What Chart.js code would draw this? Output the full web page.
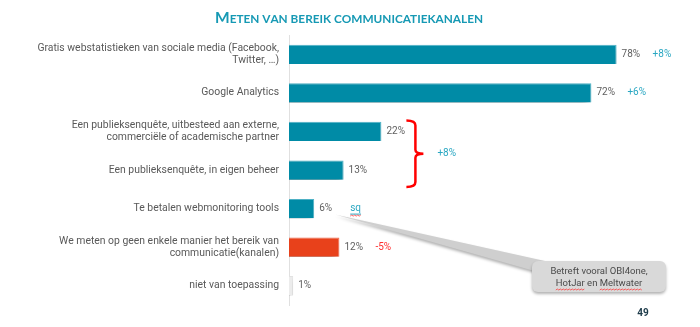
<!DOCTYPE html>
<html>
<head>
<meta charset="utf-8">
<script src="https://cdn.jsdelivr.net/npm/chart.js@4"></script>
<style>
  html, body { margin: 0; padding: 0; background: #fff; }
  #wrap { width: 700px; height: 327px; position: relative; }
</style>
</head>
<body>
<div id="wrap"><canvas id="chart"></canvas></div>
<script>
// Data
const categories = [
  ['Gratis webstatistieken van sociale media (Facebook,', 'Twitter, …)'],
  'Google Analytics',
  ['Een publieksenquête, uitbesteed aan externe,', 'commerciële of academische partner'],
  'Een publieksenquête, in eigen beheer',
  'Te betalen webmonitoring tools',
  ['We meten op geen enkele manier het bereik van', 'communicatie(kanalen)'],
  'niet van toepassing'
];
const values = [78, 72, 22, 13, 6, 12, 1];
const changes = ['+8%', '+6%', '', '', 'sq', '-5%', ''];
const groupRows = [2, 3];
const groupChange = '+8%';
const titleText = 'Meten van bereik communicatiekanalen';
const noteLines = ['Betreft vooral OBI4one,', 'HotJar en Meltwater'];
const pageNumber = '49';

const TEAL = '#008ba6';
const RED = '#e8411b';

// Bar shadow
const shadowPlugin = {
  id: 'shadow',
  beforeDatasetsDraw(chart) {
    const ctx = chart.ctx;
    ctx.save();
    ctx.shadowColor = 'rgba(0,0,0,0.45)';
    ctx.shadowBlur = 5;
    ctx.shadowOffsetX = -3;
    ctx.shadowOffsetY = 4;
  },
  afterDatasetsDraw(chart) {
    chart.ctx.restore();
  }
};

// Title, labels, bracket, callout
const extras = {
  id: 'extras',
  afterDraw(chart) {
    const ctx = chart.ctx;
    const x = chart.scales.x;
    const meta = chart.getDatasetMeta(0);

    // title in small caps
    ctx.save();
    ctx.fillStyle = '#1699b4';
    const big = 'bold 15.5px Lato', small = 'bold 11.8px Lato';
    const words = titleText.split(' ');
    const parts = [];
    words.forEach((w, i) => {
      parts.push([w[0].toUpperCase(), i === 0 ? big : small]);
      parts.push([w.slice(1).toUpperCase() + (i < words.length - 1 ? ' ' : ''), small]);
    });
    let total = 0;
    parts.forEach(p => { ctx.font = p[1]; total += ctx.measureText(p[0]).width; });
    let tx = 349 - total / 2;
    parts.forEach(p => {
      ctx.font = p[1];
      ctx.fillText(p[0], tx, 23);
      tx += ctx.measureText(p[0]).width;
    });
    ctx.restore();

    // value labels and changes
    ctx.save();
    ctx.textBaseline = 'middle';
    meta.data.forEach((bar, i) => {
      const end = x.getPixelForValue(values[i]);
      ctx.font = '10px Roboto';
      ctx.fillStyle = '#5f5f5f';
      ctx.textAlign = 'left';
      ctx.fillText(values[i] + '%', end + 5, bar.y);
      if (changes[i]) {
        const cx = end + 36;
        ctx.fillStyle = changes[i].startsWith('-') ? '#ff2f2f' : '#2aa7c2';
        ctx.fillText(changes[i], cx, bar.y);
        if (changes[i] === 'sq') {
          const w = ctx.measureText('sq').width;
          ctx.strokeStyle = '#2aa7c2';
          ctx.lineWidth = 1;
          ctx.beginPath();
          ctx.moveTo(cx, bar.y + 5.5);
          ctx.lineTo(cx + w, bar.y + 5.5);
          ctx.stroke();
          squiggle(ctx, cx, cx + w, bar.y + 7.5);
        }
      }
    });

    // red bracket for rows 2-3
    const top = meta.data[groupRows[0]].y - 11;
    const bot = meta.data[groupRows[1]].y + 17;
    const mid = (top + bot) / 2;
    const bx = x.getPixelForValue(values[groupRows[0]]) + 34;
    ctx.strokeStyle = '#ff0000';
    ctx.lineWidth = 2.5;
    ctx.beginPath();
    ctx.moveTo(bx - 9, top);
    ctx.quadraticCurveTo(bx, top, bx, top + 5);
    ctx.lineTo(bx, mid - 4);
    ctx.quadraticCurveTo(bx, mid, bx + 8, mid);
    ctx.quadraticCurveTo(bx, mid, bx, mid + 4);
    ctx.lineTo(bx, bot - 5);
    ctx.quadraticCurveTo(bx, bot, bx - 9, bot);
    ctx.stroke();
    ctx.fillStyle = '#2aa7c2';
    ctx.font = '10px Roboto';
    ctx.textAlign = 'left';
    ctx.fillText(groupChange, bx + 22, mid);

    // callout pointing at the webmonitoring row
    const r = meta.data[4];
    const ax = x.getPixelForValue(values[4]) + 21, ay = r.y + 6;
    ctx.fillStyle = '#cfcfcf';
    ctx.shadowColor = 'rgba(0,0,0,0.3)';
    ctx.shadowBlur = 3;
    ctx.shadowOffsetY = 2;
    ctx.beginPath();
    ctx.moveTo(ax, ay);
    ctx.lineTo(545, 261);
    ctx.lineTo(545, 274);
    ctx.closePath();
    ctx.fill();
    ctx.fillStyle = '#d9d9d9';
    ctx.beginPath();
    ctx.roundRect(532, 261, 134, 31, 6);
    ctx.fill();
    ctx.shadowColor = 'transparent';
    ctx.fillStyle = '#4a4a4a';
    ctx.font = '9.5px Roboto';
    ctx.textAlign = 'center';
    ctx.fillText(noteLines[0], 599, 272);
    ctx.fillText(noteLines[1], 599, 284);
    // spell-check squiggles
    const lineStart = 599 - ctx.measureText(noteLines[1]).width / 2;
    const w1 = ctx.measureText('HotJar').width;
    const w2 = ctx.measureText('HotJar en ').width;
    const w3 = ctx.measureText('HotJar en Meltwater').width;
    squiggle(ctx, lineStart, lineStart + w1, 290);
    squiggle(ctx, lineStart + w2, lineStart + w3, 290);

    // page number
    ctx.fillStyle = '#1d3b4a';
    ctx.font = 'bold 10px Roboto';
    ctx.textAlign = 'center';
    ctx.fillText(pageNumber, 643, 313);
    ctx.restore();
  }
};

function squiggle(ctx, x0, x1, y) {
  ctx.save();
  ctx.strokeStyle = '#ff3b3b';
  ctx.lineWidth = 0.8;
  ctx.beginPath();
  ctx.moveTo(x0, y);
  let up = true;
  for (let px = x0 + 1.5; px <= x1; px += 1.5) {
    ctx.lineTo(px, up ? y - 1 : y);
    up = !up;
  }
  ctx.stroke();
  ctx.restore();
}

new Chart(document.getElementById('chart'), {
  type: 'bar',
  data: {
    labels: categories,
    datasets: [{
      data: values,
      backgroundColor: ctx => ctx.dataIndex === 5 ? RED : (ctx.dataIndex === 6 ? '#ececec' : TEAL),
      borderColor: ctx => ctx.dataIndex === 5 ? '#f26a4c' : (ctx.dataIndex === 6 ? '#e2e2e2' : '#4fb3c7'),
      borderWidth: { top: 1, right: 1, bottom: 0, left: 0 },
      borderSkipped: 'left',
      barPercentage: 0.5,
      categoryPercentage: 1
    }]
  },
  options: {
    indexAxis: 'y',
    responsive: true,
    maintainAspectRatio: false,
    animation: false,
    layout: { padding: { top: 35, bottom: 11, left: 0, right: 33 } },
    plugins: {
      legend: { display: false },
      tooltip: { enabled: false }
    },
    scales: {
      x: { display: false, min: 0, max: 90 },
      y: {
        afterFit(scale) { scale.width = 289; },
        grid: { display: false, drawTicks: false },
        border: { display: true, color: '#e0e0e0', width: 1 },
        ticks: {
          padding: 10,
          color: '#595959',
          font: { family: 'Roboto', size: 10.4, lineHeight: 1.15 }
        }
      }
    }
  },
  plugins: [shadowPlugin, extras]
});
</script>
</body>
</html>
